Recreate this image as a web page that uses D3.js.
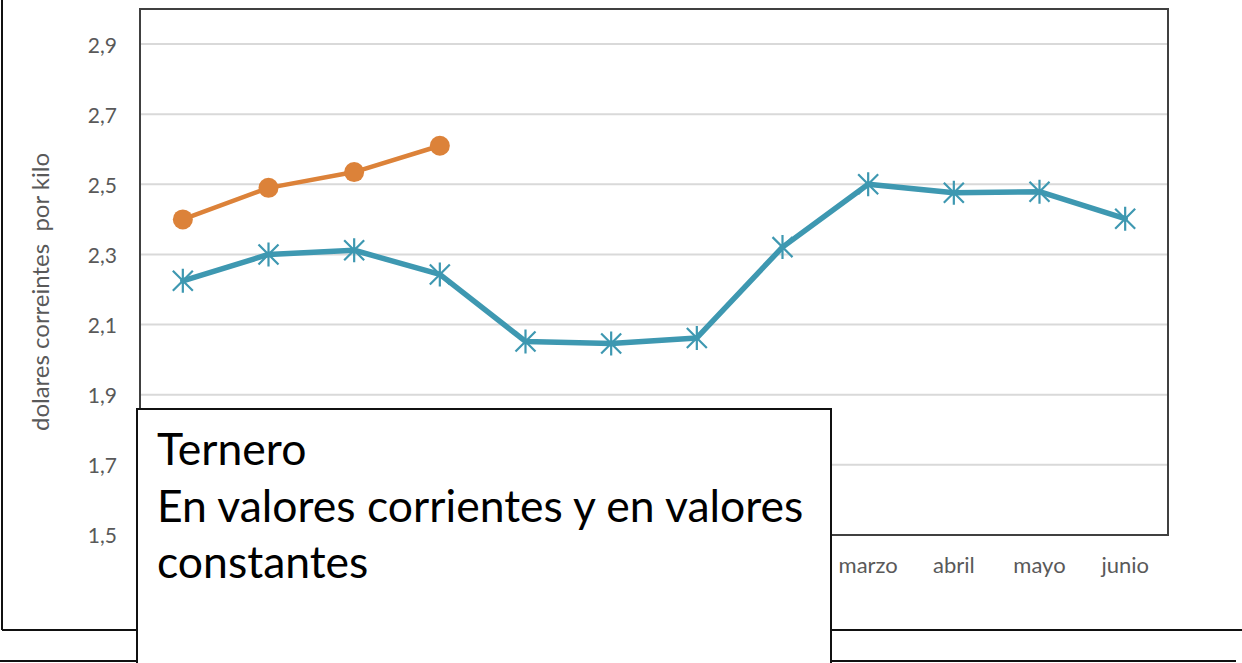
<!DOCTYPE html>
<html>
<head>
<meta charset="utf-8">
<script src="https://cdn.jsdelivr.net/npm/d3@7/dist/d3.min.js"></script>
<style>
  html, body { margin: 0; padding: 0; background: #fff; }
  svg { display: block; }
</style>
</head>
<body>
<svg id="chart" width="1242" height="663"></svg>
<script>
// Months of the season, July to June
const months = ["julio", "agosto", "septiembre", "octubre", "noviembre", "diciembre",
                "enero", "febrero", "marzo", "abril", "mayo", "junio"];
// Price in current dollars per kilo
const corrientes = [2.225, 2.30, 2.312, 2.243, 2.052, 2.046, 2.062, 2.321, 2.50, 2.476, 2.479, 2.402];
// New season (first four months)
const nuevaTemporada = [2.40, 2.49, 2.535, 2.61];
// Y tick values and labels
const yTicks = [1.5, 1.7, 1.9, 2.1, 2.3, 2.5, 2.7, 2.9];
const yTickLabels = ["1,5", "1,7", "1,9", "2,1", "2,3", "2,5", "2,7", "2,9"];
const yTitle = "dolares correintes  por kilo";
const boxLines = ["Ternero", "En valores corrientes y en valores", "constantes"];

const svg = d3.select("#chart");
const font = "Lato, 'Open Sans', sans-serif";

// Outer chart frame
svg.append("line").attr("x1", 2).attr("x2", 2).attr("y1", 0).attr("y2", 630)
  .attr("stroke", "#111").attr("stroke-width", 2);
svg.append("line").attr("x1", 2).attr("x2", 1242).attr("y1", 630).attr("y2", 630)
  .attr("stroke", "#111").attr("stroke-width", 2);
svg.append("line").attr("x1", 0).attr("x2", 1236).attr("y1", 661).attr("y2", 661)
  .attr("stroke", "#111").attr("stroke-width", 2);

const plot = { left: 140, right: 1168, top: 9, bottom: 535 };

const x = d3.scaleBand().domain(months).range([plot.left, plot.right]);
const y = d3.scaleLinear().domain([1.5, 3.0]).range([plot.bottom, plot.top]);
const cx = d => x(d) + x.bandwidth() / 2;

// Gridlines
svg.append("g").selectAll("line").data(yTicks.slice(1)).join("line")
  .attr("x1", plot.left).attr("x2", plot.right)
  .attr("y1", d => y(d)).attr("y2", d => y(d))
  .attr("stroke", "#d9d9d9").attr("stroke-width", 2);

// Y axis labels
const yAxis = d3.axisLeft(y).tickValues(yTicks)
  .tickFormat((d, i) => yTickLabels[i]).tickSize(0).tickPadding(23);
const gy = svg.append("g").attr("transform", `translate(${plot.left},0)`).call(yAxis);
gy.select(".domain").remove();
gy.selectAll("text").attr("font-family", font).attr("font-size", 21).attr("fill", "#595959")
  .attr("dy", "0.38em");

// X axis labels
const xAxis = d3.axisBottom(x).tickSize(0).tickPadding(22);
const gx = svg.append("g").attr("transform", `translate(0,${plot.bottom})`).call(xAxis);
gx.select(".domain").remove();
gx.selectAll("text").attr("font-family", font).attr("font-size", 22).attr("fill", "#595959");

// Plot area border
svg.append("rect").attr("x", plot.left).attr("y", plot.top)
  .attr("width", plot.right - plot.left).attr("height", plot.bottom - plot.top)
  .attr("fill", "none").attr("stroke", "#404040").attr("stroke-width", 2);

// Y title
svg.append("text")
  .attr("transform", `translate(49,292) rotate(-90)`)
  .attr("text-anchor", "middle")
  .attr("font-family", font).attr("font-size", 24).attr("fill", "#595959")
  .style("white-space", "pre")
  .text(yTitle);

const line = d3.line().x((d, i) => cx(months[i])).y(d => y(d));

// Current-value series
svg.append("path").datum(corrientes).attr("d", line)
  .attr("fill", "none").attr("stroke", "#3e98b1").attr("stroke-width", 5.5)
  .attr("stroke-linejoin", "round").attr("stroke-linecap", "round");
const star = svg.append("g").selectAll("g").data(corrientes).join("g")
  .attr("transform", (d, i) => `translate(${cx(months[i])},${y(d)})`);
const s = 10;
star.append("path")
  .attr("d", `M${-s},${-s}L${s},${s}M${-s},${s}L${s},${-s}M0,${-s * 1.2}L0,${s * 1.2}`)
  .attr("stroke", "#3e98b1").attr("stroke-width", 2.2).attr("fill", "none");

// New-season series
svg.append("path").datum(nuevaTemporada).attr("d", line)
  .attr("fill", "none").attr("stroke", "#dc8239").attr("stroke-width", 4.5)
  .attr("stroke-linejoin", "round");
svg.append("g").selectAll("circle").data(nuevaTemporada).join("circle")
  .attr("cx", (d, i) => cx(months[i])).attr("cy", d => y(d)).attr("r", 10)
  .attr("fill", "#dc8239");

// Title box overlaying the chart
svg.append("rect").attr("x", 137).attr("y", 409).attr("width", 694).attr("height", 262)
  .attr("fill", "#fff").attr("stroke", "#111").attr("stroke-width", 2);
svg.append("g").selectAll("text").data(boxLines).join("text")
  .attr("x", 157).attr("y", (d, i) => 465 + i * 56.5)
  .attr("font-family", font).attr("font-size", 44.5).attr("fill", "#000")
  .text(d => d);
</script>
</body>
</html>
